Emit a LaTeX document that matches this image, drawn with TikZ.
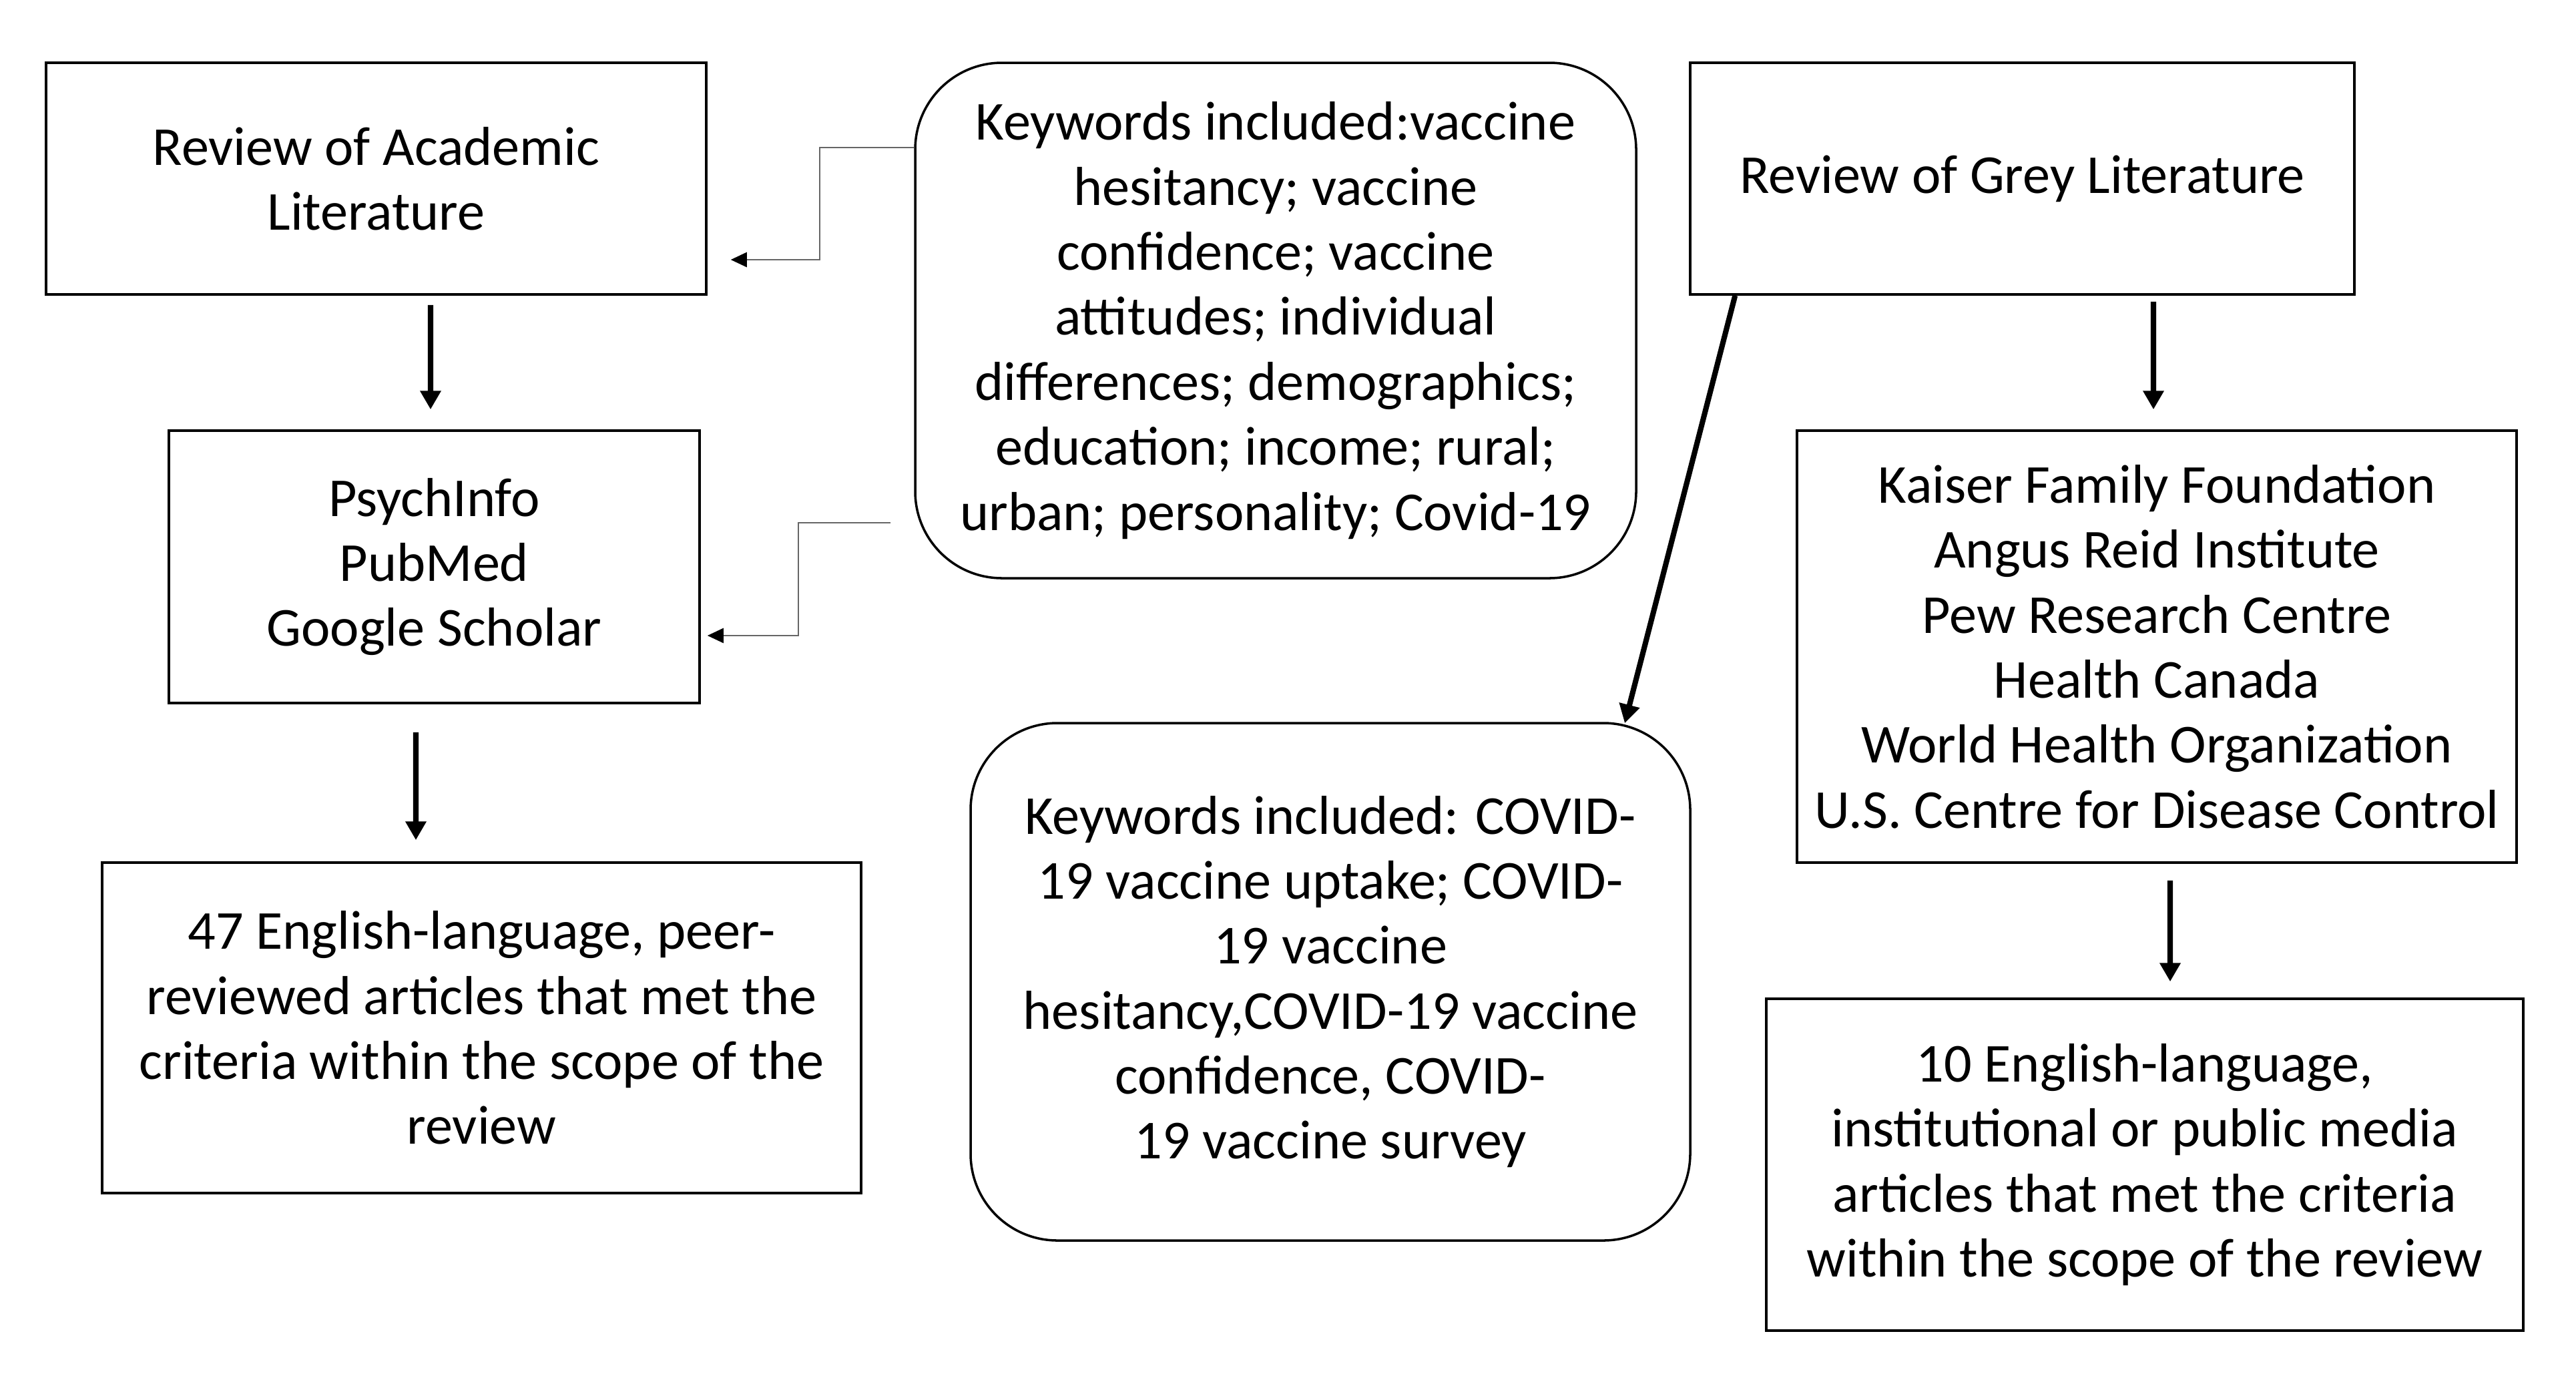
\documentclass[tikz,border=0pt]{standalone}
\usepackage{fontspec}
\setmainfont{Carlito}
\usetikzlibrary{arrows.meta,calc}
\begin{document}
\begin{tikzpicture}[
  box/.style={draw=black,line width=1pt,rectangle,align=center,inner sep=0pt,
    font=\fontsize{23.4}{27.7}\selectfont},
  rbox/.style={box,rounded corners=1.3cm},
  bigarrow/.style={draw=black,line width=2.3pt,-{Triangle[length=0.28cm,width=0.3cm]}},
  thinarrow/.style={draw=black!60,line width=0.7pt,-{Triangle[length=0.24cm,width=0.22cm,color=black]}}
]
\useasboundingbox (0,0) rectangle (38.59,-20.66);
\fill[white] (0,0) rectangle (38.59,-20.66);

\node[box,minimum width=9.89cm,minimum height=3.47cm] (A) at (5.635,-2.675)
  {Review of Academic\\Literature};
\node[box,minimum width=7.95cm,minimum height=4.08cm] (B) at (6.505,-8.49)
  {PsychInfo\\PubMed\\Google Scholar};
\node[box,minimum width=11.37cm,minimum height=4.95cm] (C) at (7.215,-15.395)
  {47 English-language, peer-\\reviewed articles that met the\\criteria within the scope of the\\review};
\node[rbox,minimum width=10.80cm,minimum height=7.72cm] (D) at (19.11,-4.80)
  {Keywords included:vaccine\\hesitancy; vaccine\\confidence; vaccine\\attitudes; individual\\differences; demographics;\\education; income; rural;\\urban; personality; Covid-19};
\node[box,minimum width=9.95cm,minimum height=3.47cm] (E) at (30.295,-2.675)
  {Review of Grey Literature};
\node[box,minimum width=10.78cm,minimum height=6.47cm] (F) at (32.31,-9.685)
  {Kaiser Family Foundation\\Angus Reid Institute\\Pew Research Centre\\Health Canada\\World Health Organization\\U.S. Centre for Disease Control};
\node[box,minimum width=11.34cm,minimum height=4.97cm] (G) at (32.13,-17.445)
  {10 English-language,\\institutional or public media\\articles that met the criteria\\within the scope of the review};
\node[rbox,minimum width=10.78cm,minimum height=7.75cm] (H) at (19.93,-14.705)
  {Keywords included: COVID-\\19 vaccine uptake; COVID-\\19 vaccine\\hesitancy,COVID-19 vaccine\\confidence, COVID-\\19 vaccine survey};

% vertical thick arrows
\draw[bigarrow] ([xshift=0.815cm,yshift=-0.14cm]A.south) -- ([xshift=-0.055cm,yshift=0.30cm]B.north);
\draw[bigarrow] ([xshift=-0.275cm,yshift=-0.42cm]B.south) -- ([xshift=-0.985cm,yshift=0.32cm]C.north);
\draw[bigarrow] ([xshift=1.965cm,yshift=-0.09cm]E.south) -- ([xshift=-0.05cm,yshift=0.30cm]F.north);
\draw[bigarrow] ([xshift=0.20cm,yshift=-0.25cm]F.south) -- ([xshift=0.38cm,yshift=0.24cm]G.north);
\draw[bigarrow] ([xshift=0.69cm]E.south west) -- ([xshift=4.41cm,yshift=-0.02cm]H.north);

% thin elbow arrows
\coordinate (d1) at ([yshift=2.59cm]D.west);
\coordinate (a1) at ([xshift=0.35cm,yshift=-1.215cm]A.east);
\draw[thinarrow] (d1) -- ($(d1)+(-1.41,0)$) |- (a1);
\coordinate (d2) at ([xshift=-0.35cm,yshift=-3.03cm]D.west);
\coordinate (b1) at ([xshift=0.10cm,yshift=-1.03cm]B.east);
\draw[thinarrow] (d2) -- ($(d2)+(-1.38,0)$) |- (b1);
\end{tikzpicture}
\end{document}
